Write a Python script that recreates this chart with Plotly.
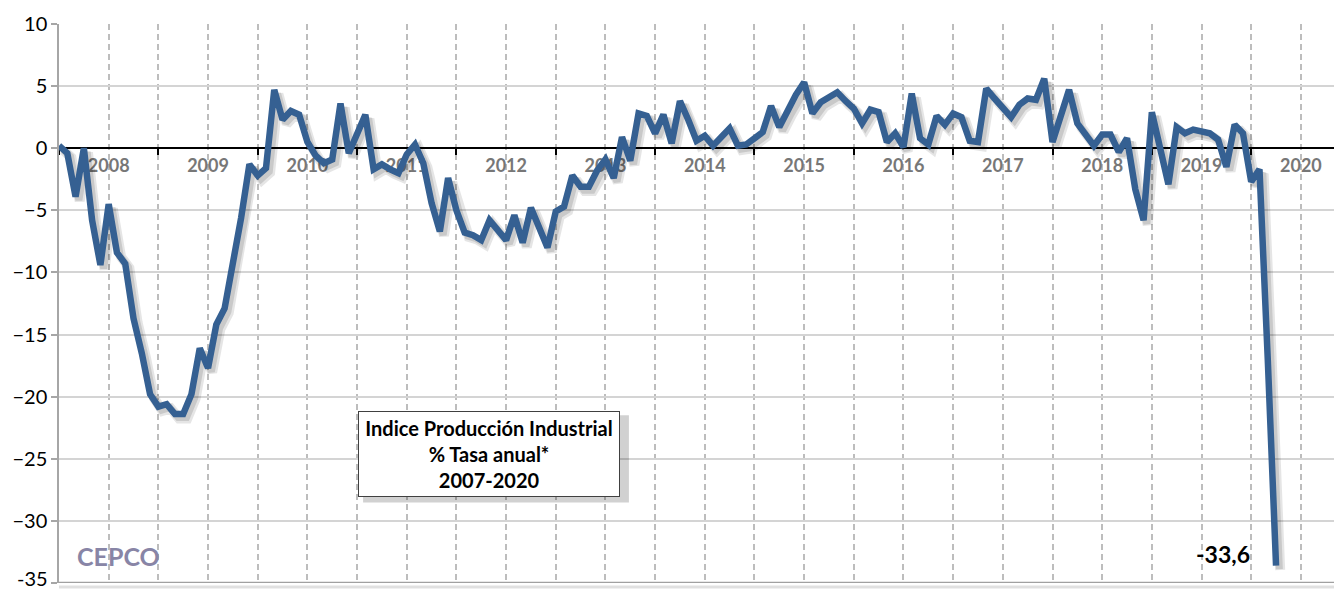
import numpy as np
import plotly.graph_objects as go

# Monthly annual rate (%) of the Industrial Production Index, Jan 2008 .. Apr 2020
values = [
    0.2, -0.4, -3.9, 0.0, -5.8, -9.4, -4.5, -8.4, -9.3, -13.7, -16.5, -19.8,      # 2008
    -20.8, -20.6, -21.4, -21.4, -19.8, -16.1, -17.7, -14.2, -12.9, -9.3, -5.6, -1.3,  # 2009
    -2.2, -1.6, 4.7, 2.3, 3.0, 2.7, 0.5, -0.6, -1.2, -0.9, 3.6, -0.4,             # 2010
    1.2, 2.7, -1.7, -1.3, -1.7, -2.0, -0.5, 0.3, -1.2, -4.4, -6.7, -2.4,          # 2011
    -5.0, -6.8, -7.0, -7.4, -5.8, -6.6, -7.4, -5.4, -7.6, -4.8, -6.4, -8.0,       # 2012
    -5.1, -4.7, -2.2, -3.1, -3.1, -1.8, -0.9, -2.4, 0.9, -1.0, 2.8, 2.6,          # 2013
    1.2, 2.7, 0.4, 3.8, 2.3, 0.6, 1.0, 0.2, 0.9, 1.6, 0.2, 0.3,                   # 2014
    0.8, 1.3, 3.4, 1.7, 3.0, 4.3, 5.3, 2.8, 3.7, 4.1, 4.5, 3.8,                   # 2015
    3.2, 2.0, 3.1, 2.9, 0.5, 1.2, 0.1, 4.4, 0.8, 0.3, 2.6, 1.9,                   # 2016
    2.8, 2.5, 0.6, 0.5, 4.8, 4.0, 3.2, 2.5, 3.5, 4.0, 3.9, 5.6,                   # 2017
    0.5, 2.7, 4.7, 2.0, 1.1, 0.2, 1.1, 1.1, -0.3, 0.8, -3.3, -5.8,                # 2018
    2.9, -0.1, -2.9, 1.7, 1.2, 1.5, 1.3, 1.2, 0.7, -1.5, 1.9, 1.2,                # 2019
    -2.7, -1.7, -17.0, -33.6,                                                     # 2020
]
month_index = list(range(len(values)))          # 0 = Jan 2008
year_labels = [str(y) for y in range(2008, 2021)]
year_label_pos = [6 + 12 * k for k in range(len(year_labels))]   # mid-year
year_start_pos = [12 * k for k in range(len(year_labels))]       # January ticks
y_tick_vals = list(range(-35, 11, 5))
last_label = "-33,6"
title_lines = ["Indice Producción Industrial", "% Tasa anual*", "2007-2020"]

FONT = "Lato"
LINE_COLOR = "#356092"

x = np.array(month_index, dtype=float)
y = np.array(values, dtype=float)

fig = go.Figure()
# soft shadow under the line
fig.add_trace(go.Scatter(x=x + 0.5, y=y - 0.35, mode="lines",
                         line=dict(color="rgba(0,0,0,0.10)", width=10),
                         hoverinfo="skip", showlegend=False))
fig.add_trace(go.Scatter(x=x + 0.4, y=y - 0.28, mode="lines",
                         line=dict(color="rgba(0,0,0,0.12)", width=7),
                         hoverinfo="skip", showlegend=False))
fig.add_trace(go.Scatter(x=x, y=y, mode="lines",
                         line=dict(color=LINE_COLOR, width=6.5),
                         showlegend=False))

fig.update_layout(
    width=1334, height=590,
    margin=dict(l=59, r=0, t=24, b=7),
    paper_bgcolor="white", plot_bgcolor="white",
    font=dict(family=FONT, color="black"),
    xaxis=dict(
        range=[0, 154],
        anchor="free", position=35 / 45,
        tickmode="array", tickvals=year_label_pos, ticktext=year_labels,
        ticks="", showline=False, zeroline=False,
        tickfont=dict(family=FONT, size=18, color="#777777", weight="bold"),
        ticklabelstandoff=5,
        showgrid=True, gridcolor="#bdbdbd", gridwidth=1.5, griddash="6px,4px",
        minor=dict(tickmode="array", tickvals=year_start_pos, ticks="outside",
                   ticklen=6, tickwidth=1.5, tickcolor="black",
                   showgrid=True, gridcolor="#bdbdbd", gridwidth=1.5,
                   griddash="6px,4px"),
        layer="below traces",
    ),
    yaxis=dict(
        range=[-35, 10], tickmode="array", tickvals=y_tick_vals,
        showgrid=True, gridcolor="#d4d4d4", gridwidth=1.5,
        zeroline=True, zerolinecolor="black", zerolinewidth=1.5,
        showline=True, linecolor="#a6a6a6", linewidth=1.5,
        ticks="outside", ticklen=6, tickcolor="#a6a6a6", tickwidth=1.5,
        tickfont=dict(family=FONT, size=20, color="black"),
    ),
)

# lowest tick label, nudged up so it stays inside the canvas
fig.add_annotation(xref="paper", yref="y", x=0, y=y_tick_vals[0], text=str(y_tick_vals[0]),
                   showarrow=False, xanchor="right", yanchor="middle", xshift=-9, yshift=5,
                   font=dict(family=FONT, size=20, color="black"))

# bottom frame line with shadow
fig.add_shape(type="line", xref="paper", yref="paper", x0=0, x1=1, y0=-0.007, y1=-0.007,
              line=dict(color="rgba(0,0,0,0.12)", width=3), layer="below")
fig.add_shape(type="line", xref="paper", yref="y", x0=0, x1=1, y0=-35, y1=-35,
              line=dict(color="#a0a0a0", width=2.5))

# title box with shadow
fig.add_shape(type="rect", xref="paper", yref="paper",
              x0=0.2385, x1=0.4470, y0=0.1440, y1=0.3000,
              fillcolor="rgba(0,0,0,0.18)", line=dict(width=0), layer="above")
fig.add_annotation(xref="paper", yref="paper", x=0.3376, y=0.2299,
                   xanchor="center", yanchor="middle",
                   text="<br>".join(title_lines), showarrow=False,
                   font=dict(family=FONT, size=20, color="black", weight="bold"),
                   align="center", bgcolor="white", bordercolor="#404040",
                   borderwidth=1, width=256, height=80, borderpad=2)

# last value label
fig.add_annotation(x=month_index[-1], y=values[-1], xref="x", yref="y",
                   text=last_label, showarrow=False, xanchor="right",
                   yanchor="middle", xshift=-24, yshift=12,
                   font=dict(family=FONT, size=23, color="black", weight="bold"))

# logo text
fig.add_annotation(xref="paper", yref="paper", x=0.047, y=0.048,
                   text="CEPCO", showarrow=False, xanchor="center", yanchor="middle",
                   font=dict(family=FONT, size=25, color="#8885a6", weight="bold"))

fig.write_html("out.html")
